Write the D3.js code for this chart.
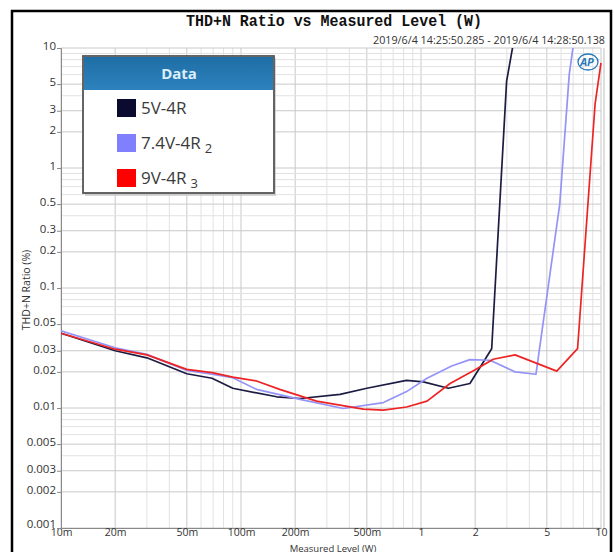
<!DOCTYPE html>
<html><head><meta charset="utf-8">
<script src="https://cdn.jsdelivr.net/npm/d3@7"></script>
<style>html,body{margin:0;padding:0;background:#fff;}svg{display:block;}</style>
</head><body>
<script>
// ---- data ----
const seriesNames = ["5V-4R", "7.4V-4R", "9V-4R"];
const seriesSubs = ["", "2", "3"];
const seriesColors = ["#1c1c42", "#9494f8", "#ee2424"];
const swatchColors = ["#0b0b30", "#8080ff", "#ff0000"];

const s1x = [0.010, 0.020, 0.030, 0.050, 0.069, 0.090, 0.158, 0.213, 0.355, 0.50, 0.83, 1.03, 1.42, 1.87, 2.47, 2.99, 3.5];
const s1y = [0.042, 0.030, 0.0262, 0.0193, 0.0177, 0.0146, 0.0124, 0.0120, 0.0130, 0.0146, 0.0170, 0.0165, 0.0146, 0.0160, 0.0312, 5.3, 20];

const s2x = [0.010, 0.020, 0.030, 0.050, 0.069, 0.090, 0.122, 0.213, 0.37, 0.618, 0.832, 1.08, 1.48, 1.87, 2.42, 3.33, 4.35, 5.9, 6.66, 7.6];
const s2y = [0.044, 0.0318, 0.028, 0.0206, 0.0191, 0.0179, 0.0143, 0.0118, 0.0099, 0.0111, 0.0137, 0.0177, 0.0224, 0.0253, 0.0250, 0.0200, 0.0191, 0.5, 6.0, 25];

const s3x = [0.010, 0.020, 0.030, 0.050, 0.069, 0.090, 0.122, 0.164, 0.263, 0.478, 0.618, 0.832, 1.08, 1.45, 2.0, 2.52, 3.33, 5.68, 7.41, 9.27, 10.0];
const s3y = [0.042, 0.0309, 0.0277, 0.021, 0.0197, 0.0181, 0.0168, 0.0143, 0.0114, 0.0098, 0.0096, 0.0102, 0.0114, 0.0160, 0.0208, 0.0255, 0.0277, 0.0203, 0.0312, 3.4, 7.5];

const xTicks = [0.01, 0.02, 0.05, 0.1, 0.2, 0.5, 1, 2, 5, 10];
const xTickLabels = ["10m", "20m", "50m", "100m", "200m", "500m", "1", "2", "5", "10"];
const yTicks = [10, 5, 3, 2, 1, 0.5, 0.3, 0.2, 0.1, 0.05, 0.03, 0.02, 0.01, 0.005, 0.003, 0.002, 0.001];
const yTickLabels = ["10", "5", "3", "2", "1", "0.5", "0.3", "0.2", "0.1", "0.05", "0.03", "0.02", "0.01", "0.005", "0.003", "0.002", "0.001"];

const titleText = "THD+N Ratio vs Measured Level (W)";
const subtitleText = "2019/6/4 14:25:50.285 - 2019/6/4 14:28:50.138";
const xLabel = "Measured Level (W)";
const yLabel = "THD+N Ratio (%)";

// ---- layout ----
const W = 614, H = 552;
const L = 61, R = 601, T = 48, B = 528;
const font = "'Open Sans', 'Noto Sans', sans-serif";

const svg = d3.select("body").append("svg").attr("width", W).attr("height", H);
const x = d3.scaleLog().domain([0.01, 10]).range([L, R]);
const y = d3.scaleLog().domain([0.001, 10]).range([B, T]);

// grid
const grid = svg.append("g");
const minorX = [], minorY = [];
[0.01, 0.1, 1].forEach(d => { for (let k = 1; k <= 9; k++) minorX.push(d * k); });
minorX.push(10);
[0.001, 0.01, 0.1, 1].forEach(d => { for (let k = 1; k <= 9; k++) minorY.push(d * k); });
minorY.push(10);
grid.selectAll(".gx").data(minorX).join("line")
  .attr("x1", d => x(d)).attr("x2", d => x(d)).attr("y1", T).attr("y2", B)
  .attr("stroke", d => xTicks.some(t => Math.abs(t - d) / d < 1e-6) ? "#c9c9c9" : "#e2e2e2").attr("stroke-width", 1);
grid.selectAll(".gy").data(minorY).join("line")
  .attr("x1", L).attr("x2", R).attr("y1", d => y(d)).attr("y2", d => y(d))
  .attr("stroke", d => yTicks.some(t => Math.abs(t - d) / d < 1e-6) ? "#c9c9c9" : "#e2e2e2").attr("stroke-width", 1);

// axes
const xAxis = d3.axisBottom(x).tickValues(xTicks).tickFormat((d, i) => xTickLabels[i]).tickSize(0).tickPadding(1);
const yAxis = d3.axisLeft(y).tickValues(yTicks).tickFormat((d, i) => yTickLabels[i]).tickSize(4).tickPadding(1);
const gx = svg.append("g").attr("transform", `translate(0,${B})`).call(xAxis);
const gy = svg.append("g").attr("transform", `translate(${L},0)`).call(yAxis);
[gx, gy].forEach(g => {
  g.select(".domain").attr("stroke", "#8a8a8a");
  g.selectAll(".tick line").attr("stroke", "#8a8a8a");
  g.selectAll("text").attr("fill", "#333").style("font-family", font).style("font-size", "11.5px");
});
gx.selectAll("text").style("font-size", "10.5px");
gy.selectAll("text").attr("dy", (d) => d === 0.001 ? "-0.05em" : "0.15em");
// right plot border
svg.append("line").attr("x1", R + 3).attr("x2", R + 3).attr("y1", T).attr("y2", B).attr("stroke", "#bdbdbd");

// lines
const sets = [[s1x, s1y], [s2x, s2y], [s3x, s3y]];
svg.append("clipPath").attr("id", "clip").append("rect").attr("x", L).attr("y", T).attr("width", R - L + 3).attr("height", B - T);
const line = d3.line().x(d => x(d[0])).y(d => y(d[1]));
const lg = svg.append("g").attr("clip-path", "url(#clip)");
sets.forEach((s, i) => {
  const pts = s[0].map((v, j) => [v, s[1][j]]);
  lg.append("path").datum(pts).attr("d", line).attr("fill", "none")
    .attr("stroke", seriesColors[i]).attr("stroke-width", 1.7).attr("stroke-linejoin", "round");
});

// title & subtitle
svg.append("text").attr("x", 334).attr("y", 26).attr("text-anchor", "middle")
  .style("font-family", "'Liberation Mono', 'DejaVu Sans Mono', monospace").style("font-weight", "bold").style("font-size", "16px")
  .attr("textLength", 296).attr("lengthAdjust", "spacingAndGlyphs").attr("fill", "#111").text(titleText);
svg.append("text").attr("x", 605).attr("y", 44).attr("text-anchor", "end")
  .style("font-family", font).style("font-size", "11px").attr("fill", "#333")
  .attr("textLength", 232).attr("lengthAdjust", "spacingAndGlyphs").text(subtitleText);

// axis titles
svg.append("text").attr("x", 333).attr("y", 551.5).attr("text-anchor", "middle")
  .style("font-family", font).style("font-size", "9.5px").attr("fill", "#333").text(xLabel);
svg.append("text").attr("transform", "translate(30,290) rotate(-90)").attr("text-anchor", "middle")
  .style("font-family", font).style("font-size", "10.5px").attr("fill", "#333").text(yLabel);

// AP logo
const logo = svg.append("g").attr("transform", "translate(588,62)");
logo.append("ellipse").attr("rx", 10).attr("ry", 8).attr("fill", "none").attr("stroke", "#2a78b8").attr("stroke-width", 1.3);
logo.append("text").attr("x", -1).attr("y", 4).attr("text-anchor", "middle")
  .style("font-family", font).style("font-size", "11px").style("font-weight", "bold").style("font-style", "italic")
  .attr("fill", "#2a78b8").text("AP");

// legend
const leg = svg.append("g").attr("transform", "translate(83,56)");
const defs = svg.append("defs");
const grad = defs.append("linearGradient").attr("id", "hdr").attr("x1", 0).attr("x2", 0).attr("y1", 0).attr("y2", 1);
grad.append("stop").attr("offset", "0").attr("stop-color", "#1f6ea6");
grad.append("stop").attr("offset", "1").attr("stop-color", "#2d82bd");
leg.append("rect").attr("x", 2).attr("y", 2).attr("width", 191).attr("height", 138).attr("fill", "#bbb").attr("opacity", 0.6);
leg.append("rect").attr("x", 0).attr("y", 0).attr("width", 191).attr("height", 137).attr("fill", "#fff").attr("stroke", "#555").attr("stroke-width", 1.8);
leg.append("rect").attr("x", 1).attr("y", 1).attr("width", 189).attr("height", 33).attr("fill", "url(#hdr)");
leg.append("text").attr("x", 96).attr("y", 23).attr("text-anchor", "middle")
  .style("font-family", font).style("font-size", "15px").style("font-weight", "bold").attr("fill", "#dbeefa").text("Data");
seriesNames.forEach((n, i) => {
  const yy = 43 + i * 35;
  leg.append("rect").attr("x", 34).attr("y", yy).attr("width", 19).attr("height", 18).attr("fill", swatchColors[i]);
  const t = leg.append("text").attr("x", 58).attr("y", yy + 15)
    .style("font-family", font).style("font-size", "17px").attr("fill", "#3a3a3a");
  t.append("tspan").text(n);
  if (seriesSubs[i]) t.append("tspan").attr("dx", 4).attr("dy", 4).style("font-size", "13px").text(seriesSubs[i]);
});

// frame
svg.append("rect").attr("x", 12).attr("y", 11).attr("width", 599).attr("height", 600)
  .attr("fill", "none").attr("stroke", "#000").attr("stroke-width", 2.5);
</script>
</body></html>
